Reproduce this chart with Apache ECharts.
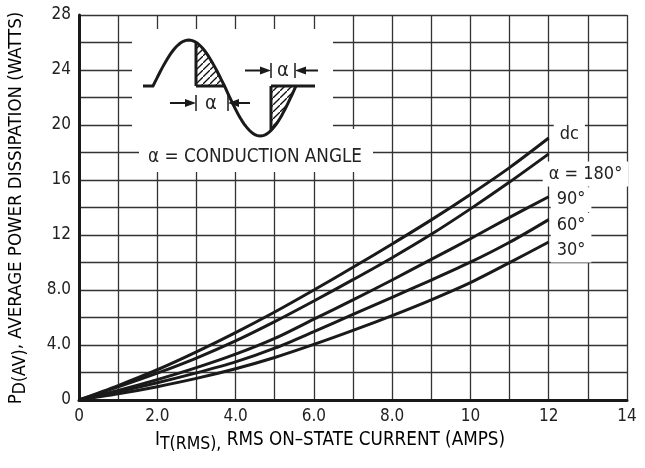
<!DOCTYPE html>
<html><head><meta charset="utf-8">
<script src="https://cdn.jsdelivr.net/npm/echarts@6/dist/echarts.min.js"></script>
<style>html,body{margin:0;padding:0;background:#fff}#c{width:645px;height:468px}</style>
</head><body><div id="c"></div>
<script>
// ---- data ----
const current = [0,1,2,3,4,5,6,7,8,9,10,11,12];
const dcW   = [0,1.05,2.2,3.5,4.9,6.4,8.0,9.65,11.35,13.1,14.95,16.9,19.05];
const a180W = [0,0.95,1.95,3.05,4.3,5.7,7.2,8.75,10.35,12.05,13.9,15.85,17.9];
const a90W  = [0,0.7,1.48,2.35,3.33,4.48,5.88,7.28,8.73,10.23,11.73,13.28,14.78];
const a60W  = [0,0.6,1.25,1.97,2.77,3.77,4.97,6.22,7.47,8.72,10.02,11.47,13.12];
const a30W  = [0,0.45,0.97,1.57,2.27,3.09,4.04,5.06,6.14,7.29,8.54,9.99,11.49];
const seriesNames = ['dc','α = 180°','90°','60°','30°'];
const xTickLabels = ['0','2.0','4.0','6.0','8.0','10','12','14'];
const yTickLabels = ['0','4.0','8.0','12','16','20','24','28'];

const FONT = "'DejaVu Sans Condensed','Liberation Sans Narrow',sans-serif";
const INK = '#1a1a1a';
const TXT = '#222';

function pairs(ys){ return current.map((x,i)=>[x, ys[i]]); }

// label placement per series (style only)
const labelOffsets = [[-3,-4],[-14,20],[-6,3],[-6,6],[-6,8]];

const allSeries = [dcW,a180W,a90W,a60W,a30W].map((ys,i)=>({
  type:'line', name: seriesNames[i], data: pairs(ys),
  showSymbol:false, smooth:0.3,
  lineStyle:{color:INK, width:3}, z:3,
  endLabel:{show:true, formatter: seriesNames[i], fontFamily:FONT, fontSize:18, color:TXT,
    backgroundColor:'#fff', padding:[3,6,4,6], align:'left', verticalAlign:'middle',
    offset: labelOffsets[i]},
  emphasis:{disabled:true}
}));

// ---- inset illustration (decorative) ----
const base = 86;
function yPos(x){ return base - 46*Math.sin(Math.PI*(x-153)/71.5); }
function yNeg(x){ return base + 50*Math.sin(Math.PI*(x-224.5)/71.5); }
function curvePts(f, a, b){ const p=[]; const n=40; for(let k=0;k<=n;k++){ const x=a+(b-a)*k/n; p.push([x,f(x)]);} return p; }
const wave = [[143,base]].concat(curvePts(yPos,153,224.5), curvePts(yNeg,224.5,296));
const reg1 = [[196,base]].concat(curvePts(yPos,196,224.5));
const reg2 = [[271,base]].concat(curvePts(yNeg,271,296));

function hatchCanvas(){
  const c=document.createElement('canvas'); c.width=7; c.height=7;
  const g=c.getContext('2d'); g.strokeStyle='#111'; g.lineWidth=1.3;
  g.beginPath(); g.moveTo(-1,8); g.lineTo(8,-1); g.stroke(); return c;
}
const hatch = {image: hatchCanvas(), repeat:'repeat'};

function ln(x1,y1,x2,y2,w){ return {type:'line', z:20, shape:{x1,y1,x2,y2}, style:{stroke:INK, lineWidth:w||3}}; }
function head(pts){ return {type:'polygon', z:20, shape:{points:pts}, style:{fill:INK}}; }

const graphics = [
  {type:'rect', z:10, shape:{x:132,y:29,width:201,height:110}, style:{fill:'#fff'}},
  {type:'rect', z:10, shape:{x:139,y:129,width:234,height:43}, style:{fill:'#fff'}},
  {type:'polygon', z:15, shape:{points:reg1}, style:{fill:hatch}},
  {type:'polygon', z:15, shape:{points:reg2}, style:{fill:hatch}},
  {type:'polyline', z:20, shape:{points:wave}, style:{stroke:INK, lineWidth:3, fill:null}},
  ln(196,yPos(196),196,base), ln(196,base,224.5,base),
  ln(271,base,271,yNeg(271)), ln(271,base,315,base),
  // arrows group 1
  ln(170,103,188,103,2), head([[196,103],[185,99],[185,107]]),
  ln(196,95,196,111,1.5), ln(228,95,228,111,1.5),
  head([[228,103],[239,99],[239,107]]), ln(237,103,250,103,2),
  {type:'text', z:20, x:211, y:104, style:{text:'α', font:'20px '+FONT, fill:TXT, align:'center', verticalAlign:'middle'}},
  // arrows group 2
  ln(245,70.5,263,70.5,2), head([[271,70.5],[260,66.5],[260,74.5]]),
  ln(271,63,271,78,1.5), ln(295,63,295,78,1.5),
  head([[295,70.5],[306,66.5],[306,74.5]]), ln(304,70.5,318,70.5,2),
  {type:'text', z:20, x:283, y:71, style:{text:'α', font:'20px '+FONT, fill:TXT, align:'center', verticalAlign:'middle'}},
  {type:'text', z:20, x:255, y:157, style:{text:'α = CONDUCTION ANGLE', font:'18.7px '+FONT, fill:TXT, align:'center', verticalAlign:'middle'}},
  // axis names
  {type:'text', z:20, x:330, y:442, style:{
    text:'{m|I}{s|T(RMS),}{m| RMS ON–STATE CURRENT (AMPS)}', align:'center', verticalAlign:'middle',
    rich:{ m:{fontFamily:FONT, fontSize:18.7, color:TXT, lineHeight:22, verticalAlign:'top'},
           s:{fontFamily:FONT, fontSize:17.5, color:TXT, lineHeight:22, verticalAlign:'bottom', padding:[8,0,0,0]} } }},
  {type:'text', z:20, x:18, y:208, rotation:Math.PI/2, style:{
    text:'{m|P}{s|D(AV)}{m|, AVERAGE POWER DISSIPATION (WATTS)}', align:'center', verticalAlign:'middle',
    rich:{ m:{fontFamily:FONT, fontSize:18.5, color:TXT, lineHeight:22, verticalAlign:'top'},
           s:{fontFamily:FONT, fontSize:17.5, color:TXT, lineHeight:22, verticalAlign:'bottom', padding:[8,0,0,0]} } }}
];

const chart = echarts.init(document.getElementById('c'), null, {renderer:'canvas'});
chart.setOption({
  animation:false,
  backgroundColor:'#fff',
  grid:{left:79, right:18, top:15, bottom:68, containLabel:false},
  xAxis:{type:'value', min:0, max:14, interval:1,
    axisLine:{show:true, onZero:false, lineStyle:{color:INK, width:3}},
    axisTick:{show:false},
    splitLine:{show:true, lineStyle:{color:'#333', width:1.3}},
    axisLabel:{margin:8, fontFamily:FONT, fontSize:17, color:TXT,
      formatter:v=> (v%2===0 ? xTickLabels[v/2] : '')}},
  yAxis:{type:'value', min:0, max:28, interval:2,
    axisLine:{show:true, onZero:false, lineStyle:{color:INK, width:3}},
    axisTick:{show:false},
    splitLine:{show:true, lineStyle:{color:'#333', width:1.3}},
    axisLabel:{margin:8, fontFamily:FONT, fontSize:17, color:TXT,
      formatter:v=> (v%4===0 ? yTickLabels[v/4] : '')}},
  series: allSeries,
  graphic: graphics
});
</script></body></html>
